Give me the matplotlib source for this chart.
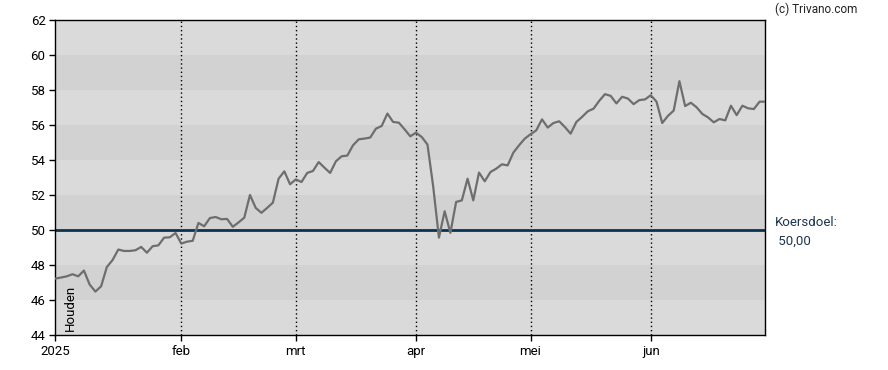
import numpy as np
import pandas as pd
import matplotlib
matplotlib.use("Agg")
import matplotlib.pyplot as plt

# --- DATA ---
HOLIDAYS = ["2025-01-01", "2025-04-18", "2025-04-21", "2025-05-01"]
PRICES = [
    47.24, 47.30, 47.37, 47.49, 47.37, 47.70, 46.90, 46.50, 46.80, 47.90,
    48.30, 48.90, 48.82, 48.82, 48.86, 49.05, 48.72, 49.09, 49.14, 49.58,
    49.60, 49.85, 49.24, 49.35, 49.40, 50.42, 50.23, 50.70, 50.76, 50.63,
    50.65, 50.20, 50.45, 50.72, 52.02, 51.28, 51.00, 51.28, 51.58, 52.95,
    53.37, 52.63, 52.91, 52.76, 53.28, 53.39, 53.90, 53.58, 53.28, 53.94,
    54.23, 54.27, 54.86, 55.20, 55.24, 55.30, 55.81, 55.96, 56.67, 56.19,
    56.15, 55.77, 55.37, 55.58, 55.33, 54.90, 52.50, 49.58, 51.09, 49.85,
    51.62, 51.71, 52.95, 51.71, 53.30, 52.80, 53.33, 53.52, 53.77, 53.71,
    54.44, 54.86, 55.24, 55.49, 55.71, 56.34, 55.87, 56.13, 56.23, 55.90,
    55.52, 56.19, 56.48, 56.80, 56.95, 57.40, 57.78, 57.68, 57.25, 57.63,
    57.53, 57.21, 57.44, 57.48, 57.72, 57.35, 56.13, 56.54, 56.84, 58.52,
    57.10, 57.29, 57.03, 56.65, 56.45, 56.17, 56.36, 56.28, 57.12, 56.58,
    57.12, 56.97, 56.93, 57.35, 57.35,
]
MONTH_LABELS = ["2025", "feb", "mrt", "apr", "mei", "jun"]
TARGET = 50.0
TARGET_TEXT = "Koersdoel:\n 50,00"
ADVICE = "Houden"
Y_MIN, Y_MAX = 44, 62

dates = pd.bdate_range("2025-01-01", "2025-06-30")
dates = dates[~dates.isin(pd.to_datetime(HOLIDAYS))]
x = np.arange(len(dates))
month_starts = [int(np.argmax(dates.month == m)) for m in range(1, 7)]

plt.rcParams["font.family"] = ["Roboto", "DejaVu Sans"]

fig = plt.figure(figsize=(8.88, 3.70), dpi=100)
ax = fig.add_axes([55.3 / 888, 1 - 335.3 / 370, 710 / 888, 315 / 370])

# alternating horizontal bands
for i, lo in enumerate(range(Y_MIN, Y_MAX, 2)):
    ax.axhspan(lo, lo + 2, color="#dadada" if i % 2 == 0 else "#d2d2d2",
               lw=0, zorder=0)

for m in month_starts[1:]:
    ax.axvline(m, color="black", lw=1, ls=(0, (1, 2)), zorder=1)

ax.axhline(TARGET, color="#0b3350", lw=2, zorder=2)
ax.plot(x, PRICES, color="#6e6e6e", lw=1.6, zorder=3)

ax.set_xlim(0, len(x) - 1)
ax.set_ylim(Y_MIN, Y_MAX)
ax.set_yticks(range(Y_MIN, Y_MAX + 1, 2))
ax.set_xticks(month_starts)
ax.set_xticklabels(MONTH_LABELS)
ax.tick_params(labelsize=9.5, length=4, width=1, colors="black", pad=3)
for s in ax.spines.values():
    s.set_color("black")
    s.set_linewidth(1)

ax.text(0.012, 0.015, ADVICE, rotation=90, transform=ax.transAxes,
        fontsize=9.5, ha="left", va="bottom", color="black")
fig.text(775 / 888, 1 - 232 / 370, TARGET_TEXT, fontsize=9.5,
         color="#1d3550", ha="left", va="center", linespacing=1.5)
fig.text(775 / 888, 1 - 9 / 370, "(c) Trivano.com", fontsize=8.5,
         color="#222222", ha="left", va="center")

fig.savefig("out.png", dpi=100)
